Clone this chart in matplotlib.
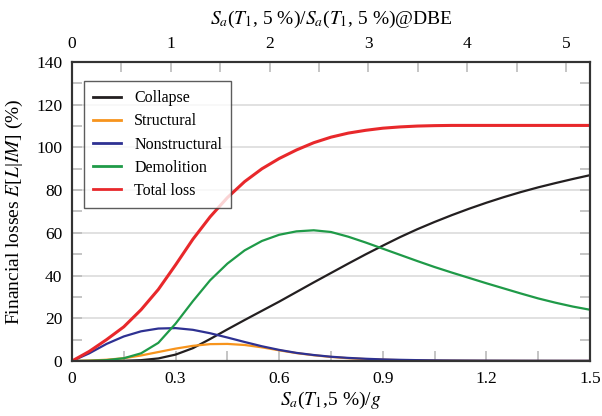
import numpy as np
import matplotlib
matplotlib.use('Agg')
import matplotlib.pyplot as plt
from matplotlib.ticker import MultipleLocator

plt.rcParams['font.family'] = ['Liberation Serif', 'DejaVu Serif']
plt.rcParams['mathtext.fontset'] = 'stix'

# Sa(T1, 5%)/g
sa = np.round(np.arange(0, 1.5001, 0.05), 2)

collapse = [0, 0, 0, 0.1, 0.4, 1.2, 3.0, 6.0, 10.3, 14.8, 19.2, 23.5, 27.8, 32.3, 36.8,
            41.2, 45.6, 49.9, 54.0, 58.0, 61.7, 65.1, 68.3, 71.3, 74.1, 76.7, 79.1, 81.3,
            83.3, 85.2, 87.0]
structural = [0, 0.2, 0.6, 1.3, 2.6, 4.2, 5.8, 7.1, 7.9, 8.0, 7.5, 6.4, 5.0, 3.7, 2.7, 1.9,
              1.3, 0.9, 0.6, 0.4, 0.3, 0.22, 0.17, 0.13, 0.1, 0.08, 0.07, 0.06, 0.05, 0.05,
              0.05]
nonstructural = [0, 3.6, 8.0, 11.5, 13.9, 15.2, 15.4, 14.6, 13.0, 11.0, 8.9, 6.9, 5.2, 3.8,
                 2.8, 2.0, 1.45, 1.05, 0.75, 0.55, 0.4, 0.3, 0.24, 0.2, 0.17, 0.15, 0.13,
                 0.12, 0.11, 0.1, 0.1]
demolition = [0, 0.1, 0.4, 1.3, 3.6, 8.5, 17.5, 28.0, 37.8, 45.6, 51.8, 56.2, 59.1, 60.7,
              61.2, 60.4, 58.2, 55.5, 52.6, 49.7, 46.8, 44.0, 41.4, 38.9, 36.4, 34.0, 31.6,
              29.3, 27.3, 25.5, 24.0]
total = [0, 4.5, 10.0, 16.0, 24.0, 33.5, 45.0, 57.0, 67.5, 76.5, 84.0, 90.0, 94.8, 98.8,
         102.2, 104.8, 106.7, 108.0, 109.0, 109.6, 110.0, 110.2, 110.3, 110.3, 110.3,
         110.3, 110.3, 110.3, 110.3, 110.3, 110.3]

xticks = [0, 0.3, 0.6, 0.9, 1.2, 1.5]
sa_dbe = 0.2862  # Sa at DBE level (g)

series = [('Collapse', collapse, '#231f20'),
          ('Structural', structural, '#f7941d'),
          ('Nonstructural', nonstructural, '#2e3192'),
          ('Demolition', demolition, '#1f9a48'),
          ('Total loss', total, '#e8282b')]

fig = plt.figure(figsize=(6.02, 4.16), dpi=100)
ax = fig.add_axes([0.1196, 0.1322, 0.8604, 0.7188])

for name, vals, col in series:
    lw = 2.2 if name == 'Total loss' else 1.6
    ax.plot(sa, vals, color=col, lw=lw, label=name, solid_joinstyle='round')

ax.set_xticks(xticks)
ax.set_xticklabels([f'{v:g}' for v in xticks])
ax.xaxis.set_minor_locator(MultipleLocator(0.15))
ax.yaxis.set_major_locator(MultipleLocator(20))
ax.yaxis.set_minor_locator(MultipleLocator(10))
ax.set_xlim(0, 1.5)
ax.set_ylim(0, 140)
ax.yaxis.grid(True, color='#dcdcdc', lw=1.2)
ax.set_axisbelow(True)
ax.tick_params(which='both', direction='in', color='#bbbbbb', labelsize=12.5,
               top=False, right=True, pad=7, length=7, width=1.2)

ax.set_xlabel(r'$S_a$($T_1$,5 %)/$g$', fontsize=14, labelpad=2)
ax.set_ylabel(r'Financial losses $E$[$L$|$IM$] (%)', fontsize=14, labelpad=8)

top = ax.twiny()
top.set_xlim(0, 1.5 / sa_dbe)
top.xaxis.set_major_locator(MultipleLocator(1))
top.xaxis.set_minor_locator(MultipleLocator(0.5))
top.tick_params(which='both', direction='in', color='#bbbbbb', labelsize=12.5,
                pad=7, length=7, width=1.2)
top.set_xlabel(r'$S_a$($T_1$, 5 %)/$S_a$($T_1$, 5 %)@DBE', fontsize=14, labelpad=9)

for a in (ax, top):
    for s in a.spines.values():
        s.set_color('#333333')
        s.set_linewidth(1.5)

leg = ax.legend(loc='upper left', bbox_to_anchor=(0.023, 0.935), borderaxespad=0,
                fontsize=11.5, frameon=True, fancybox=False, handlelength=1.8,
                labelspacing=0.45, handletextpad=0.8, borderpad=0.55)
leg.get_frame().set_edgecolor('#333333')
leg.get_frame().set_linewidth(1.0)
for ln in leg.get_lines():
    ln.set_linewidth(2.0)

fig.savefig('out.png', dpi=100)
